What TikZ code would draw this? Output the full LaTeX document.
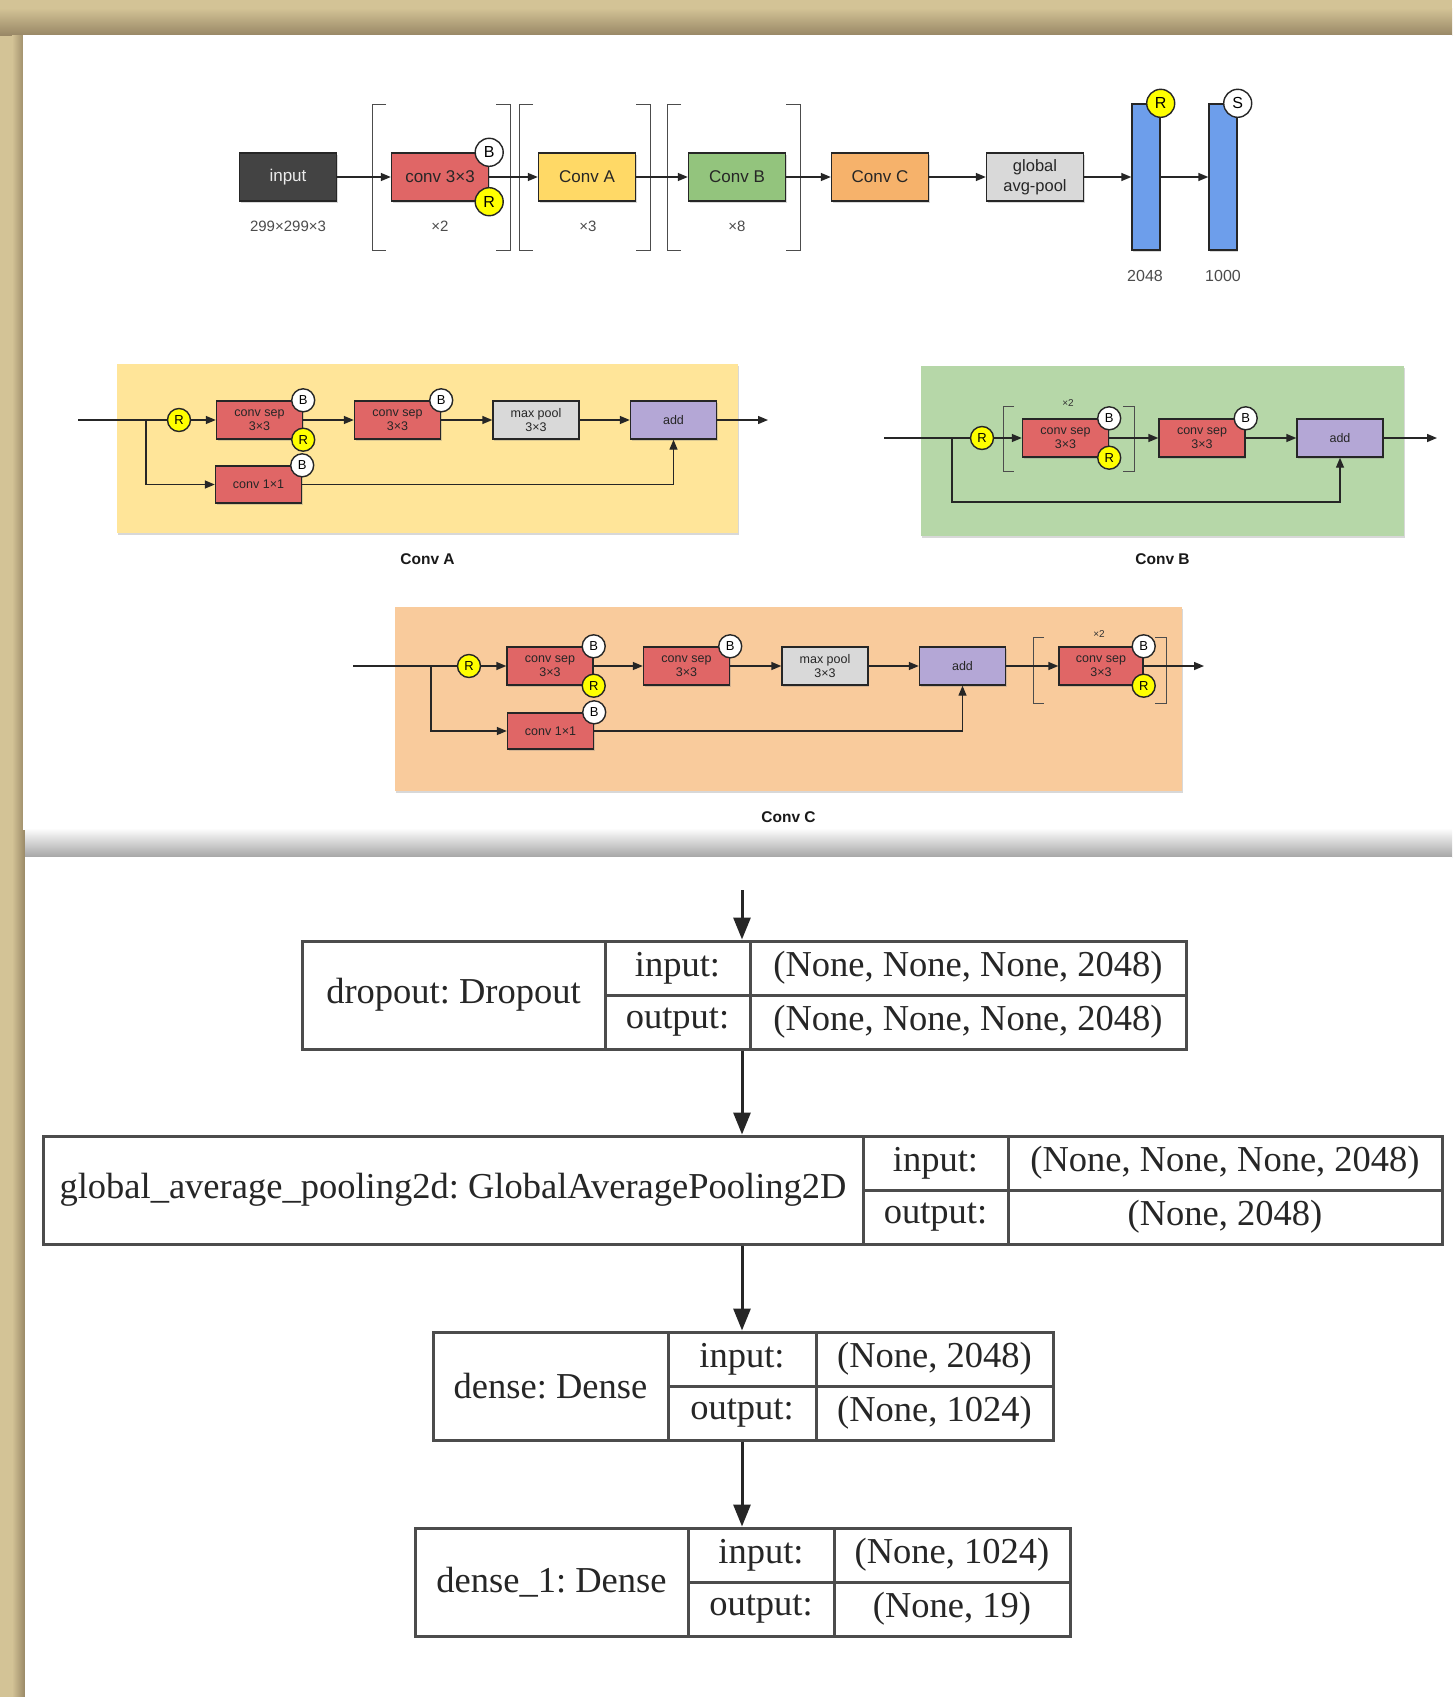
\documentclass[tikz,border=0pt]{standalone}
\usepackage{fontspec}
\setmainfont{Liberation Serif}
\setsansfont{Liberation Sans}
\usetikzlibrary{positioning,arrows.meta,shadows}
\frenchspacing

\definecolor{convred}{HTML}{E06666}
\definecolor{convyel}{HTML}{FFD966}
\definecolor{convgrn}{HTML}{93C47D}
\definecolor{convorg}{HTML}{F6B26B}
\definecolor{poolgry}{HTML}{D9D9D9}
\definecolor{addpur}{HTML}{B4A7D6}
\definecolor{fcblue}{HTML}{6D9EEB}
\definecolor{inpdark}{HTML}{434343}
\definecolor{relu}{HTML}{FFFF00}
\definecolor{pnla}{HTML}{FFE599}
\definecolor{pnlb}{HTML}{B6D7A8}
\definecolor{pnlc}{HTML}{F9CB9C}
\definecolor{tanlt}{HTML}{D3C396}
\definecolor{tandk}{HTML}{998866}

% square brackets round a repeated block
\newcommand{\repbrackets}[5]{%
  \draw[brk] (#1+#5,#3) -- (#1,#3) -- (#1,#4) -- (#1+#5,#4);
  \draw[brk] (#2-#5,#3) -- (#2,#3) -- (#2,#4) -- (#2-#5,#4);
}

% one keras layer: name | input:/output: | shapes
\newcommand{\kerasrow}[9]{%
  \node[kcell,minimum height=108pt,minimum width={(#3-#2)*1pt}] (#1n) at ({(#2+#3)/2},{#6+54}) {#7};
  \node[kcell,minimum width={(#4-#3)*1pt}] (#1i) at ({(#3+#4)/2},{#6+27}) {input:};
  \node[kcell,minimum width={(#4-#3)*1pt}] (#1o) at ({(#3+#4)/2},{#6+81}) {output:};
  \node[kcell,minimum width={(#5-#4)*1pt}] (#1iv) at ({(#4+#5)/2},{#6+27}) {#8};
  \node[kcell,minimum width={(#5-#4)*1pt}] (#1ov) at ({(#4+#5)/2},{#6+81}) {#9};
}

\begin{document}
\begin{tikzpicture}[
  x=1pt, y=-1pt,
  >={Triangle[length=10pt,width=8pt]},
  shd/.style={drop shadow={shadow xshift=1pt,shadow yshift=-2pt,opacity=.3}},
  blk/.style={
    draw=black!85,
    line width=1.4pt,
    minimum width=97pt,
    minimum height=48pt,
    inner sep=0pt,
    align=center,
    text=black!85,
    font=\sffamily\fontsize{17}{20}\selectfont,
    shd,
  },
  sblk/.style={blk,minimum width=86pt,minimum height=38pt,font=\sffamily\fontsize{12.5}{14}\selectfont},
  bdg/.style={circle,draw=black!85,line width=1.4pt,fill=white,minimum size=28pt,inner sep=0pt,
    font=\sffamily\fontsize{16}{16}\selectfont},
  sbdg/.style={bdg,minimum size=23pt,font=\sffamily\fontsize{13}{13}\selectfont},
  bar/.style={blk,fill=fcblue,minimum width=28pt,minimum height=146pt},
  pnl/.style={inner sep=0pt,shd},
  plbl/.style={font=\sffamily\bfseries\fontsize{15.5}{18}\selectfont,text=black!90},
  lbl/.style={font=\sffamily\fontsize{15}{17}\selectfont,text=black!70},
  rep/.style={font=\sffamily\fontsize{10}{12}\selectfont,text=black!80},
  brk/.style={draw=black!70,line width=0.9pt},
  arr/.style={->,draw=black!85,line width=1.4pt},
  ln/.style={draw=black!85,line width=1.4pt},
  kcell/.style={draw=black!70,line width=3pt,minimum height=54pt,inner sep=0pt,
    font=\rmfamily\fontsize{36.5}{40}\selectfont,text=black!85},
  karr/.style={-{Triangle[length=22pt,width=17pt]},draw=black!85,line width=3pt},
  ]
  \useasboundingbox (0,0) rectangle (1452,1697);

  % page frame
  \fill[tanlt] (0,0) rectangle (1452,1697);
  \shade[top color=tanlt,bottom color=tandk] (0,8) rectangle (1452,35);
  \shade[left color=tanlt,right color=tandk] (12,35) rectangle (25,1697);
  \fill[white] (23,35) rectangle (1452,830);
  \shade[top color=white,bottom color=black!35] (25,828) rectangle (1452,857);
  \fill[white] (25,857) rectangle (1452,1697);

  % overall network
  \repbrackets{372}{510}{104}{250}{14}
  \repbrackets{519}{650}{104}{250}{14}
  \repbrackets{667}{800}{104}{250}{14}
  \node[blk,fill=inpdark,text=black!8] (inp) at (288,177) {input};
  \node[blk,fill=convred] (c33) at (440,177) {conv 3×3};
  \node[blk,fill=convyel] (ca) at (587,177) {Conv A};
  \node[blk,fill=convgrn] (cb) at (737,177) {Conv B};
  \node[blk,fill=convorg] (cc) at (880,177) {Conv C};
  \node[blk,fill=poolgry,font=\sffamily\fontsize{16.5}{20}\selectfont] (gap) at (1035,177) {global\\avg-pool};
  \node[bar] (fc1) at (1146,177) {};
  \node[bar] (fc2) at (1223,177) {};
  \path
  (inp) edge[arr] (c33)
  (c33) edge[arr] (ca)
  (ca) edge[arr] (cb)
  (cb) edge[arr] (cc)
  (cc) edge[arr] (gap)
  (gap) edge[arr] (fc1)
  (fc1) edge[arr] (fc2);
  \node[bdg] (c33b) at (c33.north east) {B};
  \node[bdg,fill=relu] (c33r) at (c33.south east) {R};
  \node[bdg,fill=relu] (fc1r) at (fc1.north east) {R};
  \node[bdg] (fc2s) at (fc2.north east) {S};
  \node[lbl] (inpl) at (288,226) {299×299×3};
  \node[lbl] (c33l) at (440,226) {×2};
  \node[lbl] (cal) at (588,226) {×3};
  \node[lbl] (cbl) at (737,226) {×8};
  \node[lbl,font=\sffamily\fontsize{16}{18}\selectfont] (fc1l) at (1145,276) {2048};
  \node[lbl,font=\sffamily\fontsize{16}{18}\selectfont] (fc2l) at (1223,276) {1000};

  % Conv A
  \node[pnl,fill=pnla,minimum width=621pt,minimum height=169pt] (pa) at (427.5,448.5) {};
  \node[plbl,below=17pt of pa] (pal) {Conv A};
  \coordinate (ain) at (78,420);
  \coordinate (aj) at (146,420);
  \coordinate (aout) at (768,420);
  \node[sbdg,fill=relu] (ar) at (179,420) {R};
  \node[sblk,fill=convred] (a1) at (259.5,420) {conv sep\\3×3};
  \node[sblk,fill=convred] (a2) at (397.5,420) {conv sep\\3×3};
  \node[sblk,fill=poolgry] (a3) at (536,420) {max pool\\3×3};
  \node[sblk,fill=addpur] (a4) at (673.5,420) {add};
  \node[sblk,fill=convred,minimum height=37pt] (a5) at (258.5,484.5) {conv 1×1};
  \draw[ln] (ain) -- (ar);
  \draw[arr] (aj) |- (a5);
  \draw[arr] (a5) -| (a4);
  \path
  (ar) edge[arr] (a1)
  (a1) edge[arr] (a2)
  (a2) edge[arr] (a3)
  (a3) edge[arr] (a4);
  \draw[arr] (a4) -- (aout);
  \node[sbdg] (a1b) at (a1.north east) {B};
  \node[sbdg,fill=relu] (a1r) at (a1.south east) {R};
  \node[sbdg] (a2b) at (a2.north east) {B};
  \node[sbdg] (a5b) at (a5.north east) {B};

  % Conv B
  \node[pnl,fill=pnlb,minimum width=483pt,minimum height=170pt] (pb) at (1162.5,451) {};
  \node[plbl,below=14pt of pb] (pbl) {Conv B};
  \repbrackets{1003}{1134}{406}{471}{11}
  \node[rep] (b1x) at (1068,403) {×2};
  \coordinate (bin) at (884,438);
  \coordinate (bj) at (952,438);
  \coordinate (bk) at (952,502);
  \coordinate (bout) at (1437,438);
  \node[sbdg,fill=relu] (br) at (982,438) {R};
  \node[sblk,fill=convred] (b1) at (1065.5,438) {conv sep\\3×3};
  \node[sblk,fill=convred] (b2) at (1202,438) {conv sep\\3×3};
  \node[sblk,fill=addpur] (b3) at (1340,438) {add};
  \draw[ln] (bin) -- (br);
  \draw[arr] (bj) -- (bk) -| (b3);
  \path
  (br) edge[arr] (b1)
  (b1) edge[arr] (b2)
  (b2) edge[arr] (b3);
  \draw[arr] (b3) -- (bout);
  \node[sbdg] (b1b) at (b1.north east) {B};
  \node[sbdg,fill=relu] (b1r) at (b1.south east) {R};
  \node[sbdg] (b2b) at (b2.north east) {B};

  % Conv C
  \node[pnl,fill=pnlc,minimum width=787pt,minimum height=184pt] (pc) at (788.5,699) {};
  \node[plbl,below=17pt of pc] (pcl) {Conv C};
  \repbrackets{1033}{1166}{637}{703}{11}
  \node[rep] (c5x) at (1099,634) {×2};
  \coordinate (cin) at (353,666);
  \coordinate (cj) at (431,666);
  \coordinate (cout) at (1204,666);
  \node[sbdg,fill=relu] (cr) at (469,666) {R};
  \node[sblk,fill=convred] (c1) at (550,666) {conv sep\\3×3};
  \node[sblk,fill=convred] (c2) at (686.5,666) {conv sep\\3×3};
  \node[sblk,fill=poolgry] (c3) at (825,666) {max pool\\3×3};
  \node[sblk,fill=addpur] (c4) at (962.5,666) {add};
  \node[sblk,fill=convred,minimum width=84pt] (c5) at (1101,666) {conv sep\\3×3};
  \node[sblk,fill=convred,minimum height=36pt] (c6) at (550.5,731) {conv 1×1};
  \draw[ln] (cin) -- (cr);
  \draw[arr] (cj) |- (c6);
  \draw[arr] (c6) -| (c4);
  \path
  (cr) edge[arr] (c1)
  (c1) edge[arr] (c2)
  (c2) edge[arr] (c3)
  (c3) edge[arr] (c4)
  (c4) edge[arr] (c5);
  \draw[arr] (c5) -- (cout);
  \node[sbdg] (c1b) at (c1.north east) {B};
  \node[sbdg,fill=relu] (c1r) at (c1.south east) {R};
  \node[sbdg] (c2b) at (c2.north east) {B};
  \node[sbdg] (c5b) at (c5.north east) {B};
  \node[sbdg,fill=relu] (c5r) at (c5.south east) {R};
  \node[sbdg] (c6b) at (c6.north east) {B};

  % keras head
  \kerasrow{t1}{302}{605}{750}{1186}{941}{dropout: Dropout}{(None, None, None, 2048)}{(None, None, None, 2048)}
  \kerasrow{t2}{43}{863}{1008}{1442}{1136}{global\_average\_pooling2d: GlobalAveragePooling2D}{(None, None, None, 2048)}{(None, 2048)}
  \kerasrow{t3}{433}{668}{816}{1053}{1332}{dense: Dense}{(None, 2048)}{(None, 1024)}
  \kerasrow{t4}{415}{688}{834}{1070}{1528}{dense\_1: Dense}{(None, 1024)}{(None, 19)}
  \coordinate (kin) at (742,890);
  \draw[karr] (kin) -- (kin |- t1i.north);
  \draw[karr] (kin |- t1o.south) -- (kin |- t2n.north);
  \draw[karr] (kin |- t2n.south) -- (kin |- t3i.north);
  \draw[karr] (kin |- t3o.south) -- (kin |- t4i.north);
\end{tikzpicture}
\end{document}
